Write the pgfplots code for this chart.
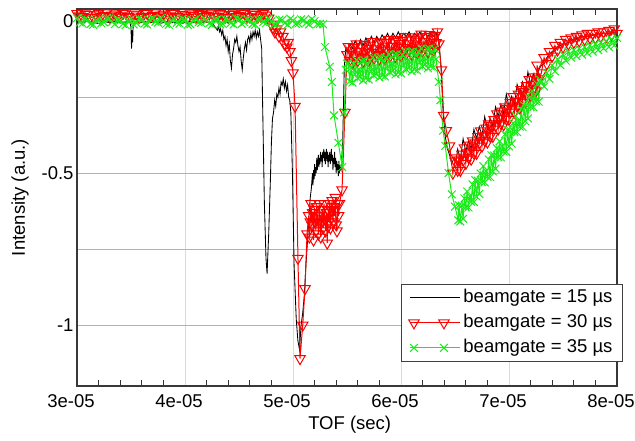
\documentclass[border=0pt]{standalone}
\usepackage{fontspec}
\setmainfont{Liberation Sans}
\usepackage{pgfplots}
\pgfplotsset{compat=1.18}
\newcommand{\fs}{\fontsize{18.5bp}{22bp}\selectfont}
\definecolor{gr}{RGB}{25,235,25}
\begin{document}
\begin{tikzpicture}
\begin{axis}[
  name=ax,
  scale only axis, width=540bp, height=377bp,
  xmin=30, xmax=80, ymin=-1.2, ymax=0.04,
  xtick={30,40,50,60,70,80},
  xticklabels={3e-05,4e-05,5e-05,6e-05,7e-05,8e-05},
  minor x tick num=4,
  ytick={-1,-0.75,-0.5,-0.25,0},
  yticklabels={-1,,-0.5,,0},
  xmajorgrids, ymajorgrids,
  x grid style={black!14, line width=0.8bp},
  y grid style={black!30, line width=1.3bp},
  tick align=inside,
  major tick length=0bp, minor tick length=6bp,
  minor tick style={black!80, line width=1bp},
  axis line style={black!78, line width=1.3bp},
  tick label style={font=\fs},
  xticklabel style={yshift=-5bp, xshift=-6bp},
  label style={font=\fs},
  xlabel={TOF (sec)}, ylabel={Intensity (a.u.)},
  xlabel style={at={(axis description cs:0.505,-0.1034)}, anchor=center},
  ylabel style={at={(axis description cs:-0.1056,0.5)}, anchor=center},
  legend style={at={(1.011,0.064)}, anchor=south east, draw=black!75, line width=1bp,
    font=\fs, inner xsep=7bp, inner ysep=2bp, row sep=2bp,
    nodes={inner xsep=3bp, inner ysep=3bp, text height=13bp, text depth=4bp},
    /tikz/every even column/.append style={column sep=0bp}},
  legend cell align=left,
  legend image code/.code={\draw[mark repeat=2,mark phase=1] plot coordinates {(4bp,0bp) (19bp,0bp) (34bp,0bp)}; \path (0bp,0bp) -- (50bp,0bp);},
]
% black: beamgate = 15 us
\addplot[black, line width=0.85bp, mark=none] coordinates {
(30.0,-0.002) (30.5,-0.006) (31.0,0.001) (31.5,-0.004) (32.0,-0.008) (32.5,-0.001) (33.0,-0.005) (33.5,0.0) (34.0,-0.006) (34.5,-0.003) (34.9,-0.004)
(35.0,-0.02) (35.05,-0.09) (35.1,-0.03) (35.15,-0.07) (35.2,-0.015) (35.3,-0.004)
(35.8,-0.006) (36.3,0.0) (36.8,-0.005) (37.3,-0.002) (37.8,-0.007) (38.3,-0.001) (38.8,-0.005) (39.3,-0.003) (39.8,-0.007) (40.3,0.0) (40.8,-0.004) (41.3,-0.006) (41.8,-0.002) (42.3,-0.005) (42.6,-0.01)
(42.8,-0.02) (43.0,-0.03) (43.1,-0.015) (43.2,-0.035) (43.3,-0.025) (43.4,-0.045) (43.5,-0.03) (43.6,-0.06) (43.7,-0.05) (43.8,-0.08) (43.9,-0.06) (44.0,-0.1) (44.1,-0.075) (44.2,-0.13) (44.3,-0.155) (44.4,-0.11) (44.5,-0.09) (44.6,-0.06) (44.7,-0.07) (44.8,-0.05) (44.9,-0.08) (45.0,-0.1) (45.1,-0.085) (45.2,-0.13) (45.3,-0.16) (45.4,-0.12) (45.5,-0.09) (45.6,-0.07) (45.7,-0.095) (45.8,-0.06) (45.9,-0.05) (46.0,-0.07) (46.1,-0.04) (46.2,-0.06) (46.3,-0.035) (46.4,-0.05) (46.5,-0.03) (46.6,-0.055) (46.7,-0.035) (46.8,-0.05) (46.9,-0.03) (47.0,-0.06) (47.1,-0.09)
(47.2,-0.3) (47.35,-0.6) (47.5,-0.78) (47.6,-0.83) (47.75,-0.7) (47.9,-0.53) (48.0,-0.4) (48.1,-0.32) (48.2,-0.3) (48.3,-0.26) (48.4,-0.28) (48.5,-0.24) (48.6,-0.25) (48.7,-0.22) (48.8,-0.24) (48.9,-0.2) (49.0,-0.21) (49.1,-0.19) (49.2,-0.22) (49.3,-0.2) (49.4,-0.23) (49.5,-0.21) (49.6,-0.25) (49.7,-0.26) (49.8,-0.3)
(49.95,-0.5) (50.1,-0.8) (50.3,-0.98) (50.45,-1.05) (50.6,-1.08) (50.75,-1.0) (50.9,-0.96) (51.05,-0.9) (51.2,-0.8) (51.35,-0.72) (51.5,-0.63) (51.6,-0.58) (51.7,-0.55)
(51.8,-0.5) (51.85,-0.54) (51.9,-0.49) (51.95,-0.52) (52.0,-0.47) (52.05,-0.51) (52.1,-0.48) (52.15,-0.5) (52.2,-0.45) (52.25,-0.49) (52.3,-0.46) (52.35,-0.44) (52.4,-0.48) (52.45,-0.45) (52.5,-0.47) (52.55,-0.43) (52.6,-0.46) (52.65,-0.44) (52.7,-0.48) (52.75,-0.43) (52.8,-0.45) (52.85,-0.42) (52.9,-0.46) (52.95,-0.43) (53.0,-0.47) (53.05,-0.44) (53.1,-0.42) (53.15,-0.46) (53.2,-0.43) (53.25,-0.48) (53.3,-0.44) (53.35,-0.46) (53.4,-0.43) (53.45,-0.47) (53.5,-0.45) (53.55,-0.42) (53.6,-0.46) (53.65,-0.44) (53.7,-0.49) (53.75,-0.45) (53.8,-0.47) (53.85,-0.43) (53.9,-0.48) (53.95,-0.45) (54.0,-0.5) (54.05,-0.46) (54.1,-0.49) (54.15,-0.47) (54.2,-0.51) (54.25,-0.46) (54.3,-0.5) (54.35,-0.48) (54.45,-0.49) (54.6,-0.4) (54.75,-0.15) (54.9,-0.085)
(55.0,-0.1) (55.25,-0.075) (55.5,-0.09) (55.75,-0.065) (56.0,-0.085) (56.25,-0.06) (56.5,-0.08) (56.75,-0.055) (57.0,-0.075) (57.25,-0.05) (57.5,-0.07) (57.75,-0.05) (58.0,-0.065) (58.25,-0.045) (58.5,-0.06) (58.75,-0.04) (59.0,-0.06) (59.25,-0.04) (59.5,-0.055) (59.75,-0.035) (60.0,-0.055) (60.25,-0.04) (60.5,-0.05) (60.75,-0.035) (61.0,-0.055) (61.25,-0.04) (61.5,-0.05) (61.75,-0.035) (62.0,-0.055) (62.25,-0.04) (62.5,-0.05) (62.75,-0.035) (63.0,-0.05) (63.25,-0.04) (63.5,-0.06)
(63.7,-0.15) (63.9,-0.3) (64.1,-0.38) (64.3,-0.42) (64.5,-0.44) (64.7,-0.47) (64.9,-0.45) (65.1,-0.46)
(65.25,-0.421) (65.5,-0.452) (65.75,-0.387) (66.0,-0.428) (66.25,-0.394) (66.5,-0.42) (66.75,-0.356) (67.0,-0.386) (67.25,-0.347) (67.5,-0.378) (67.75,-0.314) (68.0,-0.355) (68.25,-0.32) (68.5,-0.346) (68.75,-0.282) (69.0,-0.313) (69.25,-0.274) (69.5,-0.304) (69.75,-0.24) (70.0,-0.281) (70.25,-0.247) (70.5,-0.273) (70.75,-0.208) (71.0,-0.239) (71.25,-0.2) (71.5,-0.231) (71.75,-0.167) (72.0,-0.207) (72.25,-0.173) (72.5,-0.194)
(72.75,-0.16) (73.0,-0.145) (73.25,-0.14) (73.5,-0.12) (74.0,-0.1) (74.5,-0.085) (75.0,-0.075) (75.5,-0.07) (76.0,-0.06) (76.5,-0.055) (77.0,-0.05) (77.5,-0.048) (78.0,-0.045) (78.5,-0.04) (79.0,-0.04) (79.5,-0.038) (80.0,-0.035)
};
\addlegendentry{beamgate = 15 µs}
% red: beamgate = 30 us
\addplot[red, line width=1bp, mark=triangle, mark size=6bp, mark options={rotate=180, solid}] coordinates {
(30.0,0.025) (30.25,0.017) (30.5,0.015) (30.75,0.024) (31.0,0.022) (31.25,0.013) (31.5,0.012) (31.75,0.021) (32.0,0.026) (32.25,0.016) (32.5,0.018) (32.75,0.027) (33.0,0.014) (33.25,0.02) (33.5,0.024) (33.75,0.013) (34.0,0.017) (34.25,0.025) (34.5,0.027) (34.75,0.016) (35.0,0.013) (35.25,0.023) (35.5,0.021) (35.75,0.012) (36.0,0.016) (36.25,0.026) (36.5,0.025) (36.75,0.015) (37.0,0.019) (37.25,0.027) (37.5,0.012) (37.75,0.02) (38.0,0.023) (38.25,0.014) (38.5,0.017) (38.75,0.025) (39.0,0.026) (39.25,0.015) (39.5,0.014) (39.75,0.022) (40.0,0.02) (40.25,0.012) (40.5,0.024) (40.75,0.018) (41.0,0.013) (41.25,0.026) (41.5,0.022) (41.75,0.015) (42.0,0.018) (42.25,0.024) (42.5,0.027) (42.75,0.016) (43.0,0.015) (43.25,0.025) (43.5,0.021) (43.75,0.013) (44.0,0.012) (44.25,0.022) (44.5,0.024) (44.75,0.016) (45.0,0.019) (45.25,0.027) (45.5,0.025) (45.75,0.014) (46.0,0.014) (46.25,0.023) (46.5,0.022) (46.75,0.013) (47.0,0.017) (47.25,0.025) (47.5,0.02)
(47.75,0.01) (48.0,-0.01) (48.15,-0.02) (48.33,-0.036) (48.5,-0.025) (48.7,-0.05) (48.85,-0.035) (49.07,-0.05) (49.2,-0.075) (49.44,-0.085) (49.55,-0.07) (49.72,-0.1) (49.85,-0.13) (50.0,-0.17) (50.19,-0.28)
(50.46,-0.78) (50.65,-1.11) (50.9,-1.0) (51.11,-0.88) (51.3,-0.70)
(51.45,-0.64) (51.52,-0.71) (51.6,-0.66) (51.67,-0.6) (51.75,-0.67) (51.82,-0.63) (51.9,-0.72) (51.97,-0.62) (52.05,-0.66) (52.12,-0.69) (52.2,-0.61) (52.27,-0.65) (52.35,-0.70) (52.42,-0.6) (52.5,-0.64) (52.57,-0.71) (52.65,-0.66) (52.72,-0.62) (52.8,-0.68) (52.87,-0.6) (52.95,-0.65) (53.02,-0.69) (53.1,-0.63) (53.17,-0.73) (53.25,-0.62) (53.32,-0.66) (53.4,-0.6) (53.47,-0.68) (53.55,-0.62) (53.62,-0.59) (53.7,-0.66) (53.77,-0.61) (53.85,-0.64) (53.92,-0.58) (54.0,-0.67) (54.07,-0.69) (54.15,-0.6) (54.22,-0.64) (54.3,-0.6)
(54.54,-0.555) (54.81,-0.30) (55.0,-0.11)
(55.125,-0.084) (55.25,-0.129) (55.375,-0.098) (55.5,-0.137) (55.625,-0.087) (55.75,-0.111) (55.875,-0.075) (56.0,-0.13) (56.125,-0.099) (56.25,-0.118) (56.375,-0.083) (56.5,-0.132) (56.625,-0.076) (56.75,-0.121) (56.875,-0.09) (57.0,-0.129) (57.125,-0.079) (57.25,-0.103) (57.375,-0.067) (57.5,-0.122) (57.625,-0.091) (57.75,-0.11) (57.875,-0.075) (58.0,-0.124) (58.125,-0.068) (58.25,-0.113) (58.375,-0.082) (58.5,-0.122) (58.625,-0.071) (58.75,-0.095) (58.875,-0.06) (59.0,-0.114) (59.125,-0.083) (59.25,-0.102) (59.375,-0.067) (59.5,-0.116) (59.625,-0.06) (59.75,-0.105) (59.875,-0.074) (60.0,-0.113) (60.125,-0.063) (60.25,-0.087) (60.375,-0.051) (60.5,-0.106) (60.625,-0.075) (60.75,-0.094) (60.875,-0.059) (61.0,-0.108) (61.125,-0.052) (61.25,-0.097) (61.375,-0.066) (61.5,-0.105) (61.625,-0.055) (61.75,-0.079) (61.875,-0.043) (62.0,-0.098) (62.125,-0.067) (62.25,-0.086) (62.375,-0.051) (62.5,-0.1) (62.625,-0.044) (62.75,-0.089) (62.875,-0.058) (63.0,-0.097) (63.125,-0.047) (63.25,-0.071) (63.375,-0.035) (63.5,-0.075)
(63.75,-0.16) (63.95,-0.31) (64.2,-0.36) (64.5,-0.41) (64.8,-0.50) (65.0,-0.46)
(65.125,-0.45) (65.25,-0.491) (65.375,-0.456) (65.5,-0.491) (65.625,-0.437) (65.75,-0.457) (65.875,-0.417) (66.0,-0.468) (66.125,-0.433) (66.25,-0.448) (66.375,-0.408) (66.5,-0.454) (66.625,-0.394) (66.75,-0.434) (66.875,-0.4) (67.0,-0.435) (67.125,-0.38) (67.25,-0.401) (67.375,-0.361) (67.5,-0.411) (67.625,-0.377) (67.75,-0.392) (67.875,-0.352) (68.0,-0.398) (68.125,-0.338) (68.25,-0.378) (68.375,-0.343) (68.5,-0.379) (68.625,-0.324) (68.75,-0.344) (68.875,-0.305) (69.0,-0.355) (69.125,-0.32) (69.25,-0.336) (69.375,-0.296) (69.5,-0.341) (69.625,-0.282) (69.75,-0.322) (69.875,-0.287) (70.0,-0.323) (70.125,-0.268) (70.25,-0.288) (70.375,-0.248) (70.5,-0.299) (70.625,-0.264) (70.75,-0.279) (70.875,-0.24) (71.0,-0.285) (71.125,-0.225) (71.25,-0.266) (71.375,-0.231) (71.5,-0.266) (71.625,-0.212) (71.75,-0.232) (71.875,-0.192) (72.0,-0.243) (72.125,-0.208) (72.25,-0.223) (72.375,-0.183) (72.5,-0.229) (72.6,-0.145)
(72.8,-0.19) (73.0,-0.17) (73.25,-0.12) (73.5,-0.14) (73.75,-0.1) (74.0,-0.115) (74.25,-0.08) (74.5,-0.095) (74.75,-0.07) (75.0,-0.085) (75.25,-0.06) (75.5,-0.075) (75.75,-0.055) (76.0,-0.07) (76.25,-0.05) (76.5,-0.065) (76.75,-0.045) (77.0,-0.06) (77.25,-0.04) (77.5,-0.055) (77.75,-0.04) (78.0,-0.055) (78.25,-0.035) (78.5,-0.05) (78.75,-0.035) (79.0,-0.05) (79.25,-0.03) (79.5,-0.045) (79.75,-0.025) (80.0,-0.04)
};
\addlegendentry{beamgate = 30 µs}
% green: beamgate = 35 us
\addplot[gr, line width=1bp, mark=x, mark size=5.5bp, mark options={solid}] coordinates {
(30.0,0.01) (30.25,-0.004) (30.5,-0.008) (30.75,0.006) (31.0,0.004) (31.25,-0.01) (31.5,-0.012) (31.75,0.002) (32.0,0.006) (32.25,-0.007) (32.5,-0.004) (32.75,0.011) (33.0,0.009) (33.25,-0.003) (33.5,-0.01) (33.75,0.004) (34.0,0.002) (34.25,-0.009) (34.5,-0.013) (34.75,0.001) (35.0,0.007) (35.25,-0.011) (35.5,-0.006) (35.75,0.009) (36.0,0.003) (36.25,-0.008) (36.5,-0.011) (36.75,0.005) (37.0,0.008) (37.25,-0.002) (37.5,-0.005) (37.75,0.01) (38.0,0.001) (38.25,-0.009) (38.5,-0.012) (38.75,0.003) (39.0,0.006) (39.25,-0.005) (39.5,-0.008) (39.75,0.008) (40.0,0.004) (40.25,-0.012) (40.5,-0.01) (40.75,0.002) (41.0,0.007) (41.25,-0.004) (41.5,-0.006) (41.75,0.01) (42.0,0.002) (42.25,-0.007) (42.5,-0.012) (42.75,0.004) (43.0,0.005) (43.25,-0.01) (43.5,-0.009) (43.75,0.007) (44.0,0.003) (44.25,-0.006) (44.5,-0.011) (44.75,0.009) (45.0,0.006) (45.25,-0.009) (45.5,-0.004) (45.75,0.005) (46.0,0.002) (46.25,-0.01) (46.5,-0.012) (46.75,0.006) (47.0,0.007) (47.25,-0.003) (47.5,-0.007) (47.75,0.009) (48.0,0.0) (48.25,-0.011) (48.5,-0.01) (48.75,0.005) (49.0,0.004) (49.25,-0.006) (49.5,-0.012) (49.75,0.008) (50.0,0.002) (50.25,-0.009) (50.5,-0.008) (50.75,0.006) (51.0,0.003) (51.25,-0.005) (51.5,-0.011) (51.75,0.007) (52.0,0.0) (52.25,-0.01) (52.5,-0.009) (52.78,-0.01)
(52.96,-0.085) (53.4,-0.15) (53.6,-0.2) (53.8,-0.31) (54.2,-0.40) (54.55,-0.48) (54.75,-0.3) (54.9,-0.16)
(55.0,-0.14) (55.125,-0.139) (55.25,-0.198) (55.375,-0.153) (55.5,-0.202) (55.625,-0.141) (55.75,-0.175) (55.875,-0.129) (56.0,-0.188) (56.125,-0.158) (56.25,-0.182) (56.375,-0.131) (56.5,-0.195) (56.625,-0.129) (56.75,-0.188) (56.875,-0.143) (57.0,-0.192) (57.125,-0.131) (57.25,-0.165) (57.375,-0.119) (57.5,-0.179) (57.625,-0.148) (57.75,-0.172) (57.875,-0.121) (58.0,-0.185) (58.125,-0.119) (58.25,-0.179) (58.375,-0.133) (58.5,-0.182) (58.625,-0.121) (58.75,-0.155) (58.875,-0.109) (59.0,-0.169) (59.125,-0.138) (59.25,-0.162) (59.375,-0.111) (59.5,-0.175) (59.625,-0.109) (59.75,-0.169) (59.875,-0.123) (60.0,-0.172) (60.125,-0.111) (60.25,-0.145) (60.375,-0.1) (60.5,-0.159) (60.625,-0.128) (60.75,-0.152) (60.875,-0.101) (61.0,-0.165) (61.125,-0.1) (61.25,-0.159) (61.375,-0.113) (61.5,-0.162) (61.625,-0.101) (61.75,-0.135) (61.875,-0.09) (62.0,-0.149) (62.125,-0.118) (62.25,-0.142) (62.375,-0.091) (62.5,-0.155) (62.625,-0.09) (62.75,-0.149) (62.875,-0.103) (63.0,-0.152) (63.125,-0.091) (63.25,-0.125)
(63.5,-0.2) (63.65,-0.26) (63.9,-0.36) (64.1,-0.41) (64.4,-0.5) (64.7,-0.57) (65.0,-0.61) (65.3,-0.655)
(65.375,-0.606) (65.5,-0.659) (65.625,-0.607) (65.75,-0.65) (65.875,-0.583) (66.0,-0.612) (66.125,-0.56) (66.25,-0.613) (66.375,-0.576) (66.5,-0.594) (66.625,-0.537) (66.75,-0.595) (66.875,-0.523) (67.0,-0.577) (67.125,-0.525) (67.25,-0.568) (67.375,-0.501) (67.5,-0.529) (67.625,-0.477) (67.75,-0.53) (67.875,-0.493) (68.0,-0.512) (68.125,-0.455) (68.25,-0.513) (68.375,-0.441) (68.5,-0.494) (68.625,-0.442) (68.75,-0.485) (68.875,-0.418) (69.0,-0.447) (69.125,-0.395) (69.25,-0.448) (69.375,-0.411) (69.5,-0.429) (69.625,-0.372) (69.75,-0.43) (69.875,-0.358) (70.0,-0.412) (70.125,-0.36) (70.25,-0.403) (70.375,-0.336) (70.5,-0.364) (70.625,-0.312) (70.75,-0.365) (70.875,-0.328) (71.0,-0.347) (71.125,-0.29) (71.25,-0.348) (71.375,-0.276) (71.5,-0.329) (71.625,-0.277) (71.75,-0.32) (71.875,-0.253) (72.0,-0.282) (72.125,-0.23) (72.25,-0.283) (72.375,-0.246) (72.5,-0.264) (72.625,-0.207) (72.75,-0.265) (72.875,-0.193) (73.0,-0.2)
(73.25,-0.215) (73.5,-0.17) (73.75,-0.19) (74.0,-0.145) (74.25,-0.165) (74.5,-0.125) (74.75,-0.145) (75.0,-0.11) (75.25,-0.13) (75.5,-0.1) (75.75,-0.12) (76.0,-0.095) (76.25,-0.115) (76.5,-0.09) (76.75,-0.11) (77.0,-0.085) (77.25,-0.105) (77.5,-0.08) (77.75,-0.1) (78.0,-0.075) (78.25,-0.095) (78.5,-0.07) (78.75,-0.09) (79.0,-0.065) (79.25,-0.085) (79.5,-0.06) (79.75,-0.08) (80.0,-0.055)
};
\addlegendentry{beamgate = 35 µs}
\end{axis}
\pgfresetboundingbox
\path[use as bounding box] ([shift={(-77bp,-55bp)}]ax.south west) rectangle ([shift={(18bp,9bp)}]ax.north east);
\end{tikzpicture}
\end{document}
